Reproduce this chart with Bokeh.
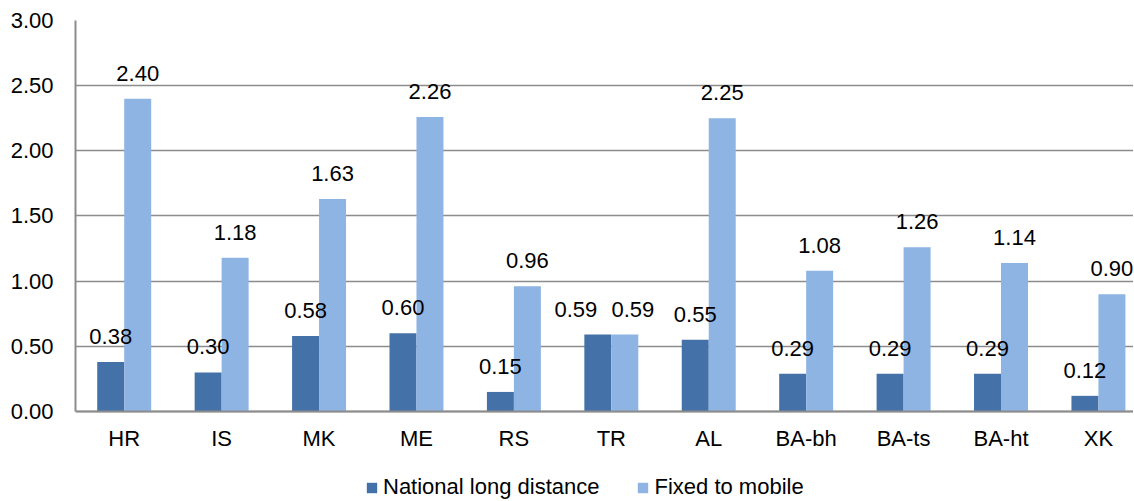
from bokeh.plotting import figure
from bokeh.models import ColumnDataSource, FixedTicker, Legend, LegendItem, Range1d
from bokeh.transform import dodge
from bokeh.core.properties import value
from bokeh.embed import file_html
from bokeh.resources import INLINE

categories = ["HR", "IS", "MK", "ME", "RS", "TR", "AL", "BA-bh", "BA-ts", "BA-ht", "XK"]
national_long_distance = [0.38, 0.30, 0.58, 0.60, 0.15, 0.59, 0.55, 0.29, 0.29, 0.29, 0.12]
fixed_to_mobile = [2.40, 1.18, 1.63, 2.26, 0.96, 0.59, 2.25, 1.08, 1.26, 1.14, 0.90]
y_ticks = [0, 0.5, 1.0, 1.5, 2.0, 2.5, 3.0]

DARK = "#4472A8"
LIGHT = "#8EB4E3"
GRID = "#8C8C8C"
FONT = "Liberation Sans"
FS = "22px"

pos = [i + 0.5 for i in range(len(categories))]
# labels of equal-height pairs are pushed apart so they don't collide
close = [abs(a - b) < 0.1 for a, b in zip(national_long_distance, fixed_to_mobile)]
src = ColumnDataSource(dict(
    x=pos,
    nld=national_long_distance,
    ftm=fixed_to_mobile,
    nld_lbl=[f"{v:.2f}" for v in national_long_distance],
    ftm_lbl=[f"{v:.2f}" for v in fixed_to_mobile],
    nld_dx=[-22 if c else 0 for c in close],
    ftm_dx=[8 if c else 0 for c in close],
))

# frame extends below zero so the category labels and legend sit inside it
p = figure(frame_width=1058, frame_height=480, output_backend="svg", toolbar_location=None,
           x_range=Range1d(0, 10.86), y_range=Range1d(-0.683, 3.0),
           min_border_left=75, min_border_right=0, min_border_top=20, min_border_bottom=0)
p.outline_line_color = None
p.background_fill_color = "white"

bw = 0.277
r1 = p.vbar(x=dodge("x", -bw / 2, range=p.x_range), top="nld", width=bw, source=src,
            fill_color=DARK, line_color=None)
r2 = p.vbar(x=dodge("x", bw / 2, range=p.x_range), top="ftm", width=bw, source=src,
            fill_color=LIGHT, line_color=None)

p.text(x=dodge("x", -bw / 2, range=p.x_range), y="nld", text="nld_lbl", source=src,
       x_offset="nld_dx", text_align="center", text_baseline="bottom", y_offset=-18,
       text_font=value(FONT), text_font_size=FS, text_color="black")
p.text(x=dodge("x", bw / 2, range=p.x_range), y="ftm", text="ftm_lbl", source=src,
       x_offset="ftm_dx", text_align="center", text_baseline="bottom", y_offset=-18,
       text_font=value(FONT), text_font_size=FS, text_color="black")

# axes
p.xaxis.ticker = FixedTicker(ticks=pos)
p.xaxis.major_label_overrides = {x: c for x, c in zip(pos, categories)}
p.xaxis.fixed_location = 0
p.yaxis.ticker = FixedTicker(ticks=y_ticks)
p.yaxis.major_label_overrides = {t: f"{t:.2f}" for t in y_ticks}
p.yaxis.bounds = (0, 3.0)
for ax in (p.xaxis, p.yaxis):
    ax.major_tick_line_color = None
    ax.minor_tick_line_color = None
    ax.major_tick_out = 0
    ax.major_tick_in = 0
    ax.minor_tick_out = 0
    ax.axis_line_color = GRID
    ax.axis_line_width = 2
    ax.major_label_text_font = FONT
    ax.major_label_text_font_size = FS
    ax.major_label_text_color = "black"
p.yaxis.major_label_standoff = 22
p.xaxis.major_label_standoff = 15

p.xgrid.grid_line_color = None
p.ygrid.grid_line_color = GRID
p.ygrid.grid_line_width = 1.5
p.ygrid.ticker = FixedTicker(ticks=y_ticks)

legend = Legend(items=[
    LegendItem(label="National long distance", renderers=[r1]),
    LegendItem(label="Fixed to mobile", renderers=[r2]),
], orientation="horizontal", location=(290, 0))
legend.label_text_font = FONT
legend.label_text_font_size = FS
legend.label_text_color = "black"
legend.glyph_width = 13
legend.glyph_height = 13
legend.label_standoff = 5
legend.spacing = 37
legend.padding = 0
legend.margin = 0
legend.border_line_color = None
legend.background_fill_alpha = 0
p.add_layout(legend, "center")

open("out.html", "w").write(file_html(p, INLINE))
